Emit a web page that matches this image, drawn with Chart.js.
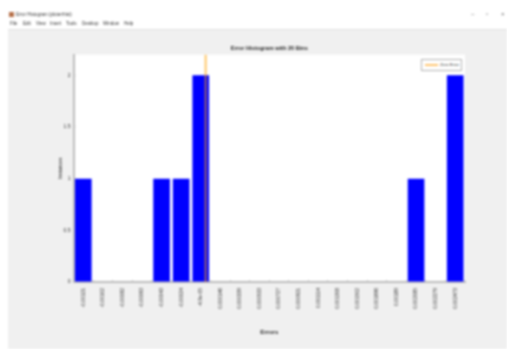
<!DOCTYPE html>
<html>
<head>
<meta charset="utf-8">
<title>Error Histogram</title>
<script src="https://cdn.jsdelivr.net/npm/chart.js@4"></script>
<style>
  html, body { margin: 0; padding: 0; background: #fff; overflow: hidden; }
  #win { position: relative; width: 507px; height: 349px; filter: blur(0.9px); font-family: "Liberation Sans", sans-serif; color: #333; }
  #panel { position: absolute; left: 8px; top: 29px; right: 0; bottom: 0; background: #f0f0f0; border-top: 1px solid #e2e2e2; }
  #barChart { position: absolute; left: 0; top: 0; }
  #icon { position: absolute; left: 9px; top: 12px; width: 5px; height: 5px; background: #b5704a; }
  #caption { position: absolute; left: 16px; top: 12px; font-size: 4.5px; line-height: 6px; white-space: nowrap; }
  .menu { position: absolute; top: 21px; font-size: 4.5px; line-height: 6px; }
  .btn { position: absolute; top: 11px; font-size: 6px; line-height: 7px; color: #666; }
  #legendBox { position: absolute; left: 421px; top: 59px; width: 39px; height: 10px; border: 1px solid #b0b0b0; background: #fff; font-size: 4.2px; line-height: 10px; }
  #legendBox i { position: absolute; left: 3px; top: 4px; width: 13px; height: 2px; background: #ffc46e; }
  #legendBox span { position: absolute; left: 18px; top: 0; white-space: nowrap; }
</style>
</head>
<body>
<div id="win">
  <div id="panel"></div>
  <div id="icon"></div>
  <div id="caption">Error Histogram (ploterrhist)</div>
  <span class="menu" style="left:10px">File</span>
  <span class="menu" style="left:23px">Edit</span>
  <span class="menu" style="left:36px">View</span>
  <span class="menu" style="left:50px">Insert</span>
  <span class="menu" style="left:66px">Tools</span>
  <span class="menu" style="left:82px">Desktop</span>
  <span class="menu" style="left:103px">Window</span>
  <span class="menu" style="left:124px">Help</span>
  <span class="btn" style="left:471px">–</span>
  <span class="btn" style="left:486px">▫</span>
  <span class="btn" style="left:501px">×</span>
  <canvas id="barChart" width="507" height="349"></canvas>
  <div id="legendBox"><i></i><span></span></div>
</div>
<script>
const binLabels = [
  '-0.00121', '-0.00102', '-0.00082', '-0.00063', '-0.00043', '-0.00024', '-4.9e-05',
  '0.000146', '0.000339', '0.000533', '0.000727', '0.000921', '0.001114', '0.001308',
  '0.001502', '0.001696', '0.00189', '0.002085', '0.002279', '0.002473'
]
const instances = [1, 0, 0, 0, 1, 1, 2, 0, 0, 0, 0, 0, 0, 0, 0, 0, 0, 1, 0, 2]
const bestErrorBin = [6.25, 6.25]
const bestErrorY = [0, 2.2]
const yTicks = [0, 0.5, 1, 1.5, 2]

const smallFont = { family: 'Liberation Sans', size: 5 }
const axisColor = '#bdbdbd'

// white plot background
const plotDecor = {
  id: 'plotDecor',
  beforeDraw(chart) {
    const a = chart.chartArea
    chart.ctx.fillStyle = '#fff'
    chart.ctx.fillRect(a.left, a.top, a.right - a.left, a.bottom - a.top)
  }
}

const chart = new Chart(document.getElementById('barChart'), {
  type: 'bar',
  data: {
    datasets: [
      {
        label: 'Instances',
        data: instances.map((v, i) => ({ x: i, y: v })),
        backgroundColor: '#0000ff',
        barPercentage: 0.85,
        categoryPercentage: 1,
        order: 2
      },
      {
        type: 'line',
        label: 'Zero Error',
        data: bestErrorBin.map((x, i) => ({ x: x, y: bestErrorY[i] })),
        borderColor: 'rgba(255, 160, 0, 0.6)',
        borderWidth: 2,
        pointRadius: 0,
        order: 1
      }
    ]
  },
  options: {
    responsive: false,
    animation: false,
    layout: { padding: { right: 42 } },
    plugins: {
      title: {
        display: true,
        fullSize: false,
        text: 'Error Histogram with 20 Bins',
        color: '#222',
        font: { family: 'Liberation Sans', size: 5.6, weight: 'bold', lineHeight: 1 },
        padding: { top: 46, bottom: 3 }
      },
      legend: { display: false },
      tooltip: { enabled: false }
    },
    scales: {
      x: {
        type: 'linear',
        min: -0.5,
        max: 19.5,
        offset: false,
        afterFit(scale) { scale.height = 67 },
        afterBuildTicks(scale) { scale.ticks = binLabels.map((_, i) => ({ value: i })) },
        border: { color: axisColor, width: 2 },
        grid: { drawOnChartArea: false, tickLength: -2, tickColor: '#aaa', tickWidth: 0.7 },
        ticks: {
          autoSkip: false, minRotation: 90, maxRotation: 90, padding: 8,
          color: '#333', font: smallFont, callback: v => binLabels[v]
        },
        title: {
          display: true,
          text: 'Errors',
          color: '#222',
          font: { family: 'Liberation Sans', size: 6, weight: 'bold', lineHeight: 1 },
          padding: { top: 0, bottom: 14 }
        }
      },
      y: {
        min: 0,
        max: 2.2,
        afterFit(scale) { scale.width = 73.5 },
        afterBuildTicks(scale) { scale.ticks = yTicks.map(v => ({ value: v })) },
        border: { color: axisColor, width: 2 },
        grid: { drawOnChartArea: false, tickLength: -2, tickColor: '#aaa', tickWidth: 0.7 },
        ticks: { padding: 5, color: '#333', font: smallFont, callback: v => String(v) },
        title: {
          display: true,
          text: 'Instances',
          color: '#222',
          font: { family: 'Liberation Sans', size: 5, lineHeight: 1 },
          padding: { top: 58, bottom: 0 }
        }
      }
    }
  },
  plugins: [plotDecor]
})

document.querySelector('#legendBox span').textContent = chart.data.datasets[1].label
</script>
</body>
</html>
